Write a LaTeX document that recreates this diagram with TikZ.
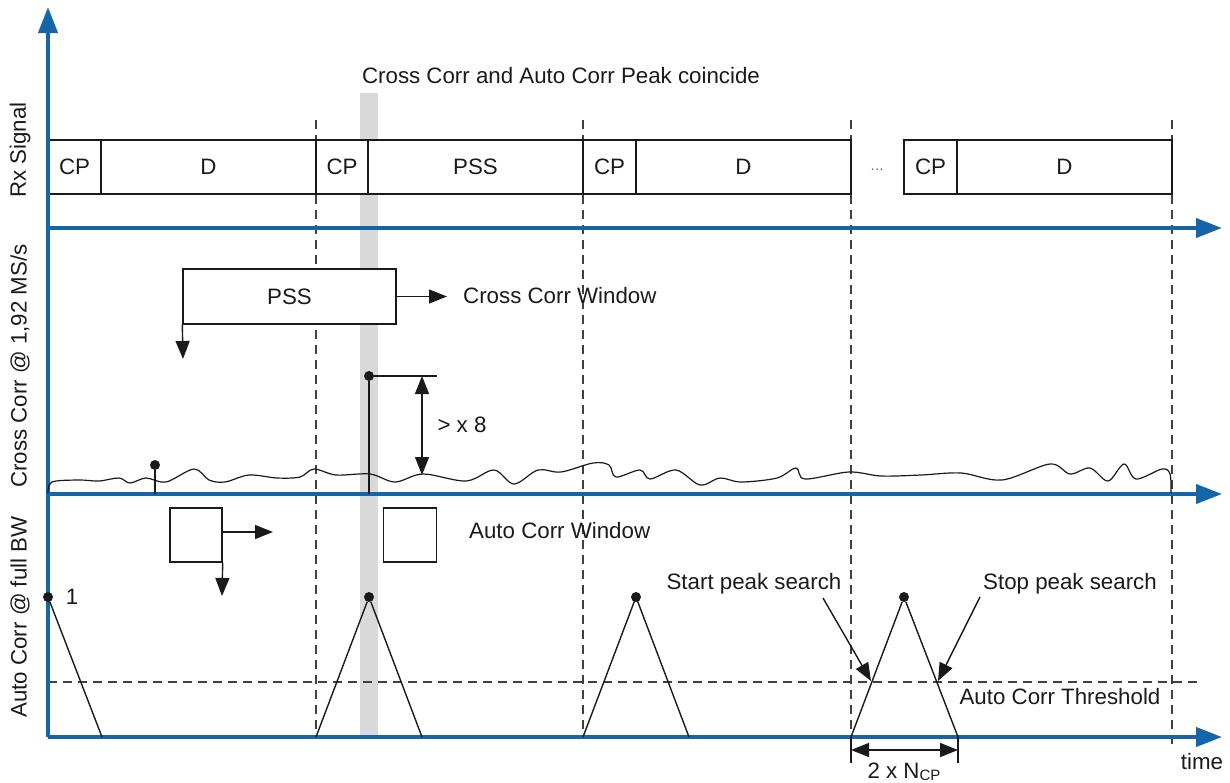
\documentclass[tikz,border=0pt]{standalone}
\usepackage{fontspec}
\setmainfont{Liberation Sans}
\usetikzlibrary{arrows.meta}
\definecolor{axisblue}{HTML}{1565A8}
\definecolor{bargray}{HTML}{D9D9D9}
\definecolor{dashgray}{HTML}{404040}
\definecolor{ink}{HTML}{1A1A1A}
\begin{document}
\begin{tikzpicture}[x=1pt,y=-1pt,
  font=\fontsize{22.3}{26}\selectfont,
  every node/.style={text=ink},
  axisline/.style={line width=4pt, draw=axisblue, -{Triangle[length=26pt,width=19pt]}},
  guide/.style={draw=dashgray, line width=1.3pt, dash pattern=on 9pt off 6pt},
  thin/.style={draw=ink, line width=1.4pt},
  cell/.style={draw=ink, line width=1.4pt, fill=white, inner sep=0pt, minimum height=54pt},
  winbox/.style={draw=ink, line width=1.4pt, fill=white, inner sep=0pt},
  arr/.style={draw=ink, line width=1.4pt, -{Triangle[length=18pt,width=14pt]}},
  dimarr/.style={draw=ink, line width=1.4pt, {Triangle[length=18pt,width=14pt]}-{Triangle[length=18pt,width=14pt]}},
  pt/.style={circle, fill=ink, inner sep=0pt, minimum size=10pt},
  lbl/.style={inner sep=0pt}]
\useasboundingbox (0,0) rectangle (1230,782);

% gray coincidence bar
\fill[bargray] (360,93) rectangle (378,737);

% dashed guides
\draw[guide] (316,120) -- (316,737);
\draw[guide] (583,120) -- (583,737);
\draw[guide] (851,120) -- (851,745);
\draw[guide] (1172,120) -- (1172,745);
\draw[guide] (48,682) -- (1200,682);

% title
\node[lbl] (title) at (561,76) {Cross Corr and Auto Corr Peak coincide};

% Rx signal cells
\node[cell, minimum width=53pt]  (cp1) at (74.5,167) {CP};
\node[cell, minimum width=215pt] (d1)  at (208.5,167) {D};
\node[cell, minimum width=52pt]  (cp2) at (342,167) {CP};
\node[cell, minimum width=215pt] (pss) at (475.5,167) {PSS};
\node[cell, minimum width=53pt]  (cp3) at (609.5,167) {CP};
\node[cell, minimum width=215pt] (d3)  at (743.5,167) {D};
\node[lbl, text=gray!70!black, font=\fontsize{14}{16}\selectfont] (dots) at (877,170) {\dots};
\node[cell, minimum width=53pt]  (cp4) at (930.5,167) {CP};
\node[cell, minimum width=215pt] (d4)  at (1064.5,167) {D};

% axes
\coordinate (o1) at (48,228);  \coordinate (e1) at (1222,228);
\coordinate (o2) at (48,494);  \coordinate (e2) at (1222,494);
\coordinate (o3) at (48,737);  \coordinate (e3) at (1222,737);
\coordinate (top) at (48,7);
\draw[axisline] (o1) -- (e1);
\draw[axisline] (o2) -- (e2);
\draw[axisline] (o3) -- (e3);
\draw[axisline] (o3) -- (top);

% axis labels
\node[lbl, rotate=90] (lrx) at (20,150) {Rx Signal};
\node[lbl, rotate=90] (lcc) at (20,366) {Cross Corr @ 1,92 MS/s};
\node[lbl, rotate=90] (lac) at (20,617) {Auto Corr @ full BW};
\node[lbl] (ltime) at (1202,762) {time};

% cross corr window
\node[winbox, minimum width=213pt, minimum height=55pt] (pssw) at (289.5,296.5) {PSS};
\coordinate (pssr) at (447,296.5);
\coordinate (pssd) at (183,359);
\draw[arr] (pssw.east) -- (pssr);
\draw[arr] (pssw.south west) -- (pssd);
\node[lbl, anchor=west] (ccw) at (463,296) {Cross Corr Window};

% noise curve
\draw[thin, line width=1.2pt] plot[smooth, tension=0.55] coordinates {
 (48,493) (52,482) (79,480) (99,481) (119,478) (130,483) (146,478) (166,482)
 (194,469) (209,480) (225,482) (249,475) (277,478) (300,477) (314,469) (336,475)
 (370,474) (395,482) (423,474) (466,481) (494,470) (514,484) (538,470) (561,472)
 (593,463) (609,465) (616,477) (640,470) (650,479) (676,470) (700,485) (720,478)
 (741,482) (777,478) (796,468) (805,479) (849,472) (881,476) (921,475) (961,473)
 (1002,480) (1050,464) (1070,474) (1090,468) (1108,481) (1124,464) (1136,479)
 (1162,469) (1170,474) (1171,493)};

% small cross-corr spike
\node[pt] (sp) at (155,465) {};
\coordinate (spb) at (155,494);
\draw[thin] (sp) -- (spb);

% cross-corr peak
\node[pt] (pk) at (369,376) {};
\coordinate (pkb) at (369,494);
\coordinate (pkr) at (437,376);
\draw[thin] (pk) -- (pkb);
\draw[thin] (pk) -- (pkr);
\coordinate (dt) at (422,376);
\coordinate (db) at (422,475);
\draw[dimarr] (dt) -- (db);
\node[lbl] (x8) at (462,425) {> x 8};

% auto corr windows
\node[winbox, minimum width=52pt, minimum height=54pt] (aw1) at (196,535) {};
\node[winbox, minimum width=53pt, minimum height=54pt] (aw2) at (410,535) {};
\coordinate (awr) at (273,532);
\coordinate (awd) at (222,596);
\draw[arr] (aw1.east |- awr) -- (awr);
\draw[arr] (aw1.south east) -- (awd);
\node[lbl, anchor=west] (acw) at (469,531) {Auto Corr Window};

% auto corr triangles
\node[pt] (a0) at (48,597) {};
\coordinate (a0b) at (102,737);
\draw[thin] (a0) -- (a0b);
\node[lbl] (one) at (72,597) {1};

\node[pt] (a1) at (369,597) {};
\coordinate (a1l) at (316,737); \coordinate (a1r) at (422,737);
\draw[thin] (a1l) -- (a1) -- (a1r);

\coordinate (a2) at (636,597);
\coordinate (a2l) at (583,737); \coordinate (a2r) at (689,737);
\draw[thin] (a2l) -- (a2) -- (a2r);
\node[pt] at (a2) {};

\node[pt] (a3) at (904,597) {};
\coordinate (a3l) at (851,737); \coordinate (a3r) at (958,737);
\draw[thin] (a3l) -- (a3) -- (a3r);

% peak search labels
\node[lbl] (start) at (754,584) {Start peak search};
\node[lbl] (stop) at (1070,584) {Stop peak search};
\coordinate (ss) at (823,598); \coordinate (st) at (871,681);
\coordinate (es) at (980,597); \coordinate (et) at (938,681);
\draw[arr] (ss) -- (st);
\draw[arr] (es) -- (et);
\node[lbl] (thr) at (1060,697) {Auto Corr Threshold};

% 2 x NCP dimension
\coordinate (x1t) at (851,737); \coordinate (x1b) at (851,763);
\coordinate (x2t) at (958,737); \coordinate (x2b) at (958,763);
\draw[thin] (x1t) -- (x1b);
\draw[thin] (x2t) -- (x2b);
\coordinate (m1) at (851,750); \coordinate (m2) at (958,750);
\draw[dimarr] (m1) -- (m2);
\node[lbl] (ncp) at (904,772) {2 x N\raisebox{-2pt}{\fontsize{15}{16}\selectfont CP}};
\end{tikzpicture}
\end{document}
